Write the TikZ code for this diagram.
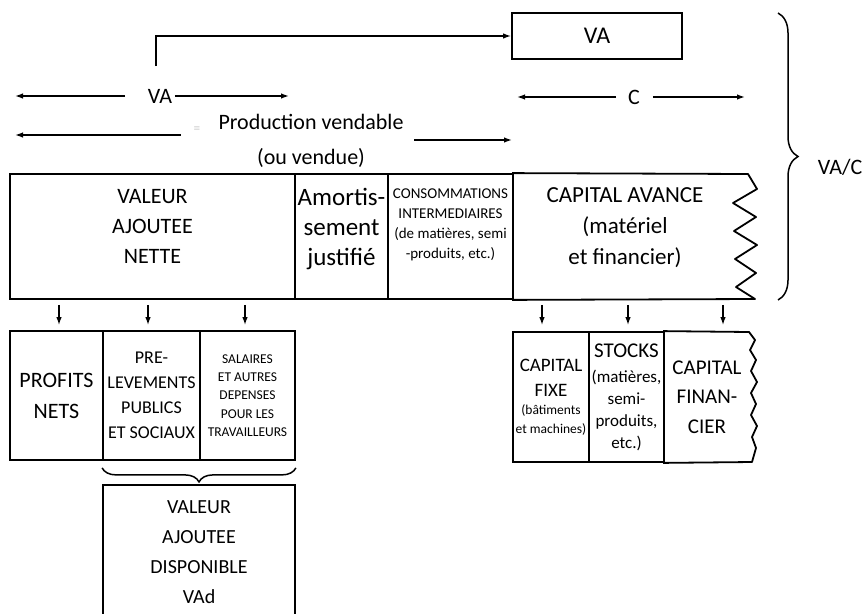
\documentclass[tikz,border=0pt]{standalone}
\usepackage{fontspec}
\setmainfont{Carlito}
\usetikzlibrary{arrows.meta,decorations.pathreplacing}

\newcommand{\fsz}[2]{\fontsize{#1}{#2}\selectfont}

\begin{document}
\begin{tikzpicture}[>={Latex[length=8pt,width=5.5pt]}, x=1pt, y=-1pt, line width=1.8pt,
  box/.style={draw, rectangle, inner sep=2pt, align=center},
  upper/.style={box, minimum height=125pt, text depth=20pt},
  lower/.style={box, minimum height=129pt},
  dim/.style={->, line width=1.4pt},
  brc/.style={decorate, line width=1.5pt}]
  \useasboundingbox (0,0) rectangle (866,613);
  \clip (0,0) rectangle (866,613);

% Top
% VA box and the line that feeds it
  \node[box, minimum width=170pt, minimum height=46pt, font={\fsz{24}{28}}] (vabox) at (597,36) {VA};

% Widths above the main row
  \node[inner sep=0pt, font={\fsz{22}{26}}] (valbl) at (160,96) {VA};
  \coordinate (vaL) at (15,96);
  \coordinate (vaR) at (289,96);
  \draw[dim, shorten <=22pt] (valbl.west) -- (vaL);
  \draw[dim, shorten <=2pt] (valbl.east) -- (vaR);
  \draw[dim, shorten <=22pt] ([xshift=-4pt]valbl.north) |- (vabox.west);

  \node[inner sep=0pt, font={\fsz{22}{26}}] (clbl) at (634,97) {C};
  \coordinate (cL) at (517,97);
  \coordinate (cR) at (745,97);
  \draw[dim, shorten <=11pt] (clbl.west) -- (cL);
  \draw[dim, shorten <=12pt] (clbl.east) -- (cR);

  \node[inner sep=0pt, align=center, font={\fsz{22}{35}}] (prod) at (311,141) {Production vendable\\(ou vendue)};
  \node[text=gray!70, inner sep=0pt, font={\fsz{8}{8}}] (mark) at (197,129) {$\equiv$};
  \coordinate (prodL) at (15,135);
  \coordinate (prodR) at (512,140);
  \draw[dim, shorten <=37pt] (prod.west |- prodL) -- (prodL);
  \draw[dim, shorten <=10pt] (prod.east |- prodR) -- (prodR);

% Main row
  \node[upper, minimum width=285pt, font={\fsz{22}{30}}] (vane) at (152.5,236.5) {VALEUR\\AJOUTEE\\NETTE};
  \node[upper, minimum width=93pt, font={\fsz{25}{30}}] (amort) at (341.5,236.5) {Amortis-\\sement\\justifié};
  \node[upper, minimum width=125pt, text depth=26pt, font={\fsz{15}{20}}] (conso) at (450.5,236.5) {CONSOMMATIONS\\INTERMEDIAIRES\\(de matières, semi\\-produits, etc.)};
  \node[upper, draw=none, minimum width=224pt, font={\fsz{23}{31}}] (cav) at (625,236.5) {CAPITAL AVANCE\\(matériel\\et financier)};
  \draw[line join=round] (cav.north west) -- (748,174) -- (757,189) -- (733,203) -- (756,217)
    -- (734,231) -- (757,245) -- (735,259) -- (756,273) -- (736,287) -- (755,299) -- (cav.south west);

% Ratio brace
  \draw[brc, decoration={brace, amplitude=20pt}] (778,13) -- (778,300);
  \node[anchor=west, inner sep=0pt, font={\fsz{22}{26}}] (vac) at (817,167) {VA/C};

% Lower left
% Sharing of the net value added
  \node[lower, minimum width=93pt, font={\fsz{22}{31}}] (prof) at (56.5,395.5) {PROFITS\\NETS};
  \node[lower, minimum width=97pt, font={\fsz{18}{25}}] (prel) at (151.5,395.5) {PRE-\\LEVEMENTS\\PUBLICS\\ET SOCIAUX};
  \node[lower, minimum width=95pt, font={\fsz{13.5}{18.25}}] (sal) at (247.5,395.5) {SALAIRES\\ET AUTRES\\DEPENSES\\POUR LES\\TRAVAILLEURS};

  \draw[dim, shorten <=5pt, shorten >=5pt] ([xshift=2.5pt]prof.north |- vane.south) -- ([xshift=2.5pt]prof.north);
  \draw[dim, shorten <=5pt, shorten >=5pt] ([xshift=-3.5pt]prel.north |- vane.south) -- ([xshift=-3.5pt]prel.north);
  \draw[dim, shorten <=5pt, shorten >=5pt] ([xshift=-2.5pt]sal.north |- vane.south) -- ([xshift=-2.5pt]sal.north);

  \draw[brc, decoration={brace, mirror, amplitude=14pt}] ([yshift=-7pt]prel.south west) -- ([yshift=-7pt]sal.south east);
  \node[box, minimum width=192pt, minimum height=134pt, font={\fsz{20}{30}}] (vad) at (199,552) {VALEUR\\AJOUTEE\\DISPONIBLE\\VAd};

% Lower right
% Parts of the capital
  \node[box, minimum width=76pt, minimum height=130pt, inner sep=1pt, font={\fsz{13.5}{18.5}}] (fixe) at (551,397) {{\fsz{19}{19}CAPITAL}\\[6.5pt]{\fsz{19}{19}FIXE}\\(bâtiments\\et machines)};
  \node[box, minimum width=75pt, minimum height=130pt, inner sep=1pt, font={\fsz{17}{22}}] (stocks) at (626.5,397) {{\fsz{21}{21}STOCKS}\\[3pt](matières,\\semi-\\produits,\\etc.)};
  \node[box, draw=none, minimum width=86pt, minimum height=130pt, font={\fsz{21}{29.5}}] (fin) at (707,397) {CAPITAL\\FINAN-\\CIER};
  \draw[line join=round] (fin.north west) -- (749,332) -- (755,340) -- (750,350) -- (756,360) -- (751,371)
    -- (757,382) -- (751,393) -- (756,404) -- (751,415) -- (757,426) -- (752,437) -- (756,448) -- (752,462) -- (fin.south west);

  \draw[dim, shorten <=5pt, shorten >=6pt] ([xshift=-9pt]fixe.north |- cav.south) -- ([xshift=-9pt]fixe.north);
  \draw[dim, shorten <=5pt, shorten >=6pt] ([xshift=1.5pt]stocks.north |- cav.south) -- ([xshift=1.5pt]stocks.north);
  \draw[dim, shorten <=5pt, shorten >=6pt] ([xshift=16pt]fin.north |- cav.south) -- ([xshift=16pt]fin.north);
\end{tikzpicture}
\end{document}
